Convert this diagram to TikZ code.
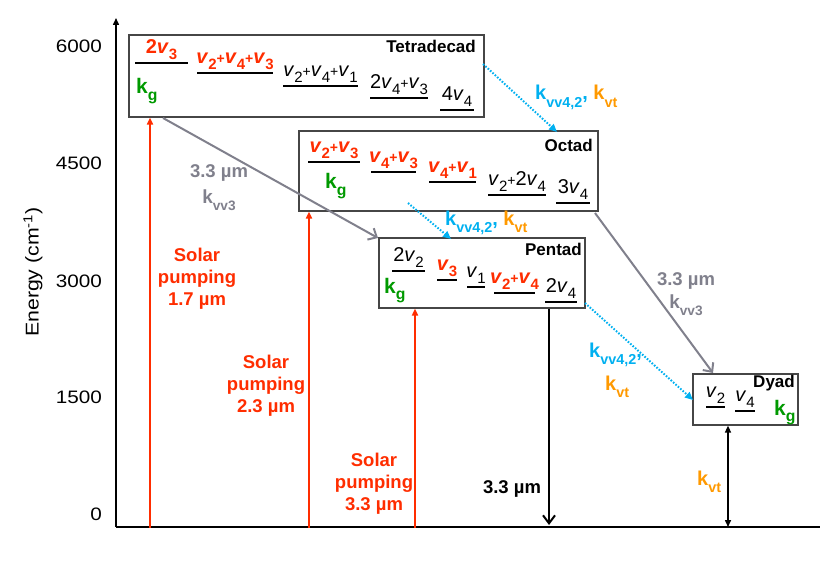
\documentclass[tikz,border=0pt]{standalone}
\usepackage{fontspec}
\setmainfont{Liberation Sans}
\newfontfamily\wf{Liberation Sans}[FakeStretch=1.15]
\usetikzlibrary{arrows.meta}
\definecolor{rd}{RGB}{255,45,0}
\definecolor{bl}{RGB}{0,176,240}
\definecolor{org}{RGB}{255,153,0}
\definecolor{gr}{RGB}{0,153,0}
\definecolor{gy}{RGB}{128,128,140}
\definecolor{boxc}{RGB}{70,70,70}
\newcommand{\sbs}[1]{\raisebox{-0.3em}{\scalebox{0.75}{#1}}}
\newcommand{\ksb}[1]{\raisebox{-0.38em}{\scalebox{0.72}{#1}}}
\newcommand{\pl}{\scalebox{0.7}{+}}
\newcommand{\vv}{\textit{v}}
\newcommand{\lev}[5]{\draw[lvl] (#1,#3) -- (#2,#3); \node[#5] (L#1) at ({(#1+#2)/2},{#3-3}) {#4};}
\tikzset{
  box/.style={draw=boxc, line width=1.2pt, inner sep=0pt},
  lvl/.style={line width=2pt, black},
  blk/.style={font=\fontsize{20}{22}\selectfont, inner sep=0pt, anchor=south},
  rdl/.style={font=\bfseries\fontsize{20}{22}\selectfont, text=rd, inner sep=0pt, anchor=south},
  ttl/.style={font=\bfseries\fontsize{17}{18}\selectfont, anchor=base east, inner sep=0pt},
  kgl/.style={font=\bfseries\fontsize{21}{22}\selectfont, text=gr, anchor=base west, inner sep=0pt},
  rate/.style={font=\bfseries\fontsize{20}{22}\selectfont, anchor=base west, inner sep=0pt},
  bt/.style={font=\bfseries\fontsize{18.5}{22}\selectfont, inner sep=0pt},
  tick/.style={font=\wf\fontsize{18}{20}\selectfont, anchor=east, inner sep=0pt},
  redarr/.style={draw=rd, line width=2pt, -{Triangle[length=7pt,width=6pt]}},
  grayarr/.style={draw=gy, line width=2pt, -{Straight Barb[length=7pt,width=13pt]}},
  bluearr/.style={draw=bl, line width=2pt, dash pattern=on 1.6pt off 1.6pt, -{Triangle[length=8pt,width=7pt]}},
}
\begin{document}
\begin{tikzpicture}[x=1pt,y=-1pt]
\useasboundingbox (0,0) rectangle (830,575);
% axes
\coordinate (o) at (116,527);
\coordinate (top) at (116,18);
\coordinate (xend) at (820,527);
\draw[line width=1.5pt, -{Triangle[length=7pt,width=6pt]}] (o) -- (top);
\draw[line width=2pt] (o) -- (xend);
\node[tick] (t6000) at (102,46) {6000};
\node[tick] (t4500) at (102,163) {4500};
\node[tick] (t3000) at (102,281) {3000};
\node[tick] (t1500) at (102,397) {1500};
\node[tick] (t0) at (102,514) {0};
\node[rotate=90, font=\wf\fontsize{18.5}{20}\selectfont, inner sep=0pt] (ylab) at (33,272) {Energy (cm\textsuperscript{-1})};
% boxes
\node[box, minimum width=355pt, minimum height=82pt] (tetra) at (306.5,76) {};
\node[box, minimum width=299pt, minimum height=80pt] (octad) at (448.5,171) {};
\node[box, minimum width=206pt, minimum height=70pt] (pentad) at (482,273) {};
\node[box, minimum width=105pt, minimum height=51pt] (dyad) at (745.5,399.5) {};
\node[ttl] (tt) at (476,53) {Tetradecad};
\node[ttl] (ot) at (593,152) {Octad};
\node[ttl] (pt) at (582,255) {Pentad};
\node[ttl] (dt) at (795,387) {Dyad};
\node[kgl] (kg1) at (136,94) {k\sbs{g}};
\node[kgl] (kg2) at (325,189) {k\sbs{g}};
\node[kgl] (kg3) at (384,293) {k\sbs{g}};
\node[kgl] (kg4) at (774,415) {k\sbs{g}};
% levels: Tetradecad
\lev{135}{188}{63}{2\vv\sbs{3}}{rdl}
\lev{197}{273}{73}{\vv\sbs{2}\pl\vv\sbs{4}\pl\vv\sbs{3}}{rdl}
\lev{283}{358}{86}{\vv\sbs{2}\pl\vv\sbs{4}\pl\vv\sbs{1}}{blk}
\lev{370}{428}{98}{2\vv\sbs{4}\pl\vv\sbs{3}}{blk}
\lev{440}{474}{110}{4\vv\sbs{4}}{blk}
% Octad
\lev{308}{360}{162}{\vv\sbs{2}\pl\vv\sbs{3}}{rdl}
\lev{371}{416}{172}{\vv\sbs{4}\pl\vv\sbs{3}}{rdl}
\lev{429}{476}{182}{\vv\sbs{4}\pl\vv\sbs{1}}{rdl}
\lev{488}{546}{195}{\vv\sbs{2}\pl2\vv\sbs{4}}{blk}
\lev{556}{590}{203}{3\vv\sbs{4}}{blk}
% Pentad
\lev{392}{425}{271}{2\vv\sbs{2}}{blk}
\lev{437}{457}{280}{\vv\sbs{3}}{rdl}
\lev{467}{485}{287}{\vv\sbs{1}}{blk}
\lev{494}{535}{293}{\vv\sbs{2}\pl\vv\sbs{4}}{rdl}
\lev{545}{577}{302}{2\vv\sbs{4}}{blk}
% Dyad
\lev{706}{725}{407}{\vv\sbs{2}}{blk}
\lev{735}{755}{411}{\vv\sbs{4}}{blk}
% solar pumping arrows
\coordinate (r1) at (150,528);
\coordinate (r2) at (309,528);
\coordinate (r3) at (415,528);
\draw[redarr] (r1) -- (r1 |- tetra.south);
\draw[redarr] (r2) -- (r2 |- octad.south);
\draw[redarr] (r3) -- (r3 |- pentad.south);
\node[bt, text=rd, align=center, anchor=north] (s1) at (197,248) {Solar\\pumping\\1.7 µm};
\node[bt, text=rd, align=center, anchor=north] (s2) at (266,355) {Solar\\pumping\\2.3 µm};
\node[bt, text=rd, align=center, anchor=north] (s3) at (374,453) {Solar\\pumping\\3.3 µm};
% gray kvv3 arrows
\coordinate (ga1) at (163,118);
\coordinate (gb1) at (378,238);
\coordinate (ga2) at (595,213);
\coordinate (gb2) at (713,373);
\draw[grayarr] (ga1) -- (gb1);
\draw[grayarr] (ga2) -- (gb2);
\node[bt, text=gy, anchor=base] (g1a) at (219,178) {3.3 µm};
\node[font=\bfseries\fontsize{19}{20}\selectfont, text=gy, anchor=base, inner sep=0pt] (g1b) at (219,203) {k\ksb{vv3}};
\node[bt, text=gy, anchor=base] (g2a) at (686,285) {3.3 µm};
\node[font=\bfseries\fontsize{19}{20}\selectfont, text=gy, anchor=base, inner sep=0pt] (g2b) at (686,308) {k\ksb{vv3}};
% blue dotted arrows
\coordinate (ba1) at (483,64);
\coordinate (bb1) at (557,132);
\coordinate (ba2) at (408,203);
\coordinate (bb2) at (451,239);
\coordinate (ba3) at (585,303);
\coordinate (bb3) at (693,400);
\draw[bluearr] (ba1) -- (bb1);
\draw[bluearr] (ba2) -- (bb2);
\draw[bluearr] (ba3) -- (bb3);
\node[rate] (k1) at (535,100) {\textcolor{bl}{k\ksb{vv4,2},} \textcolor{org}{k\ksb{vt}}};
\node[rate] (k2) at (445,225) {\textcolor{bl}{k\ksb{vv4,2},} \textcolor{org}{k\ksb{vt}}};
\node[rate, text=bl] (k3) at (589,357) {k\ksb{vv4,2},};
\node[rate, text=org] (k4) at (605,390) {k\ksb{vt}};
% emission and relaxation
\coordinate (e1) at (549,525);
\draw[line width=2pt, -{Straight Barb[length=8pt,width=12pt]}] (pentad.south -| e1) -- (e1);
\node[bt, anchor=base] (em) at (512,493) {3.3 µm};
\coordinate (d1) at (728,527);
\draw[line width=1.5pt, {Triangle[length=7pt,width=6pt]}-{Triangle[length=7pt,width=6pt]}] (dyad.south -| d1) -- (d1);
\node[rate, text=org] (k5) at (697,485) {k\ksb{vt}};
\end{tikzpicture}
\end{document}
